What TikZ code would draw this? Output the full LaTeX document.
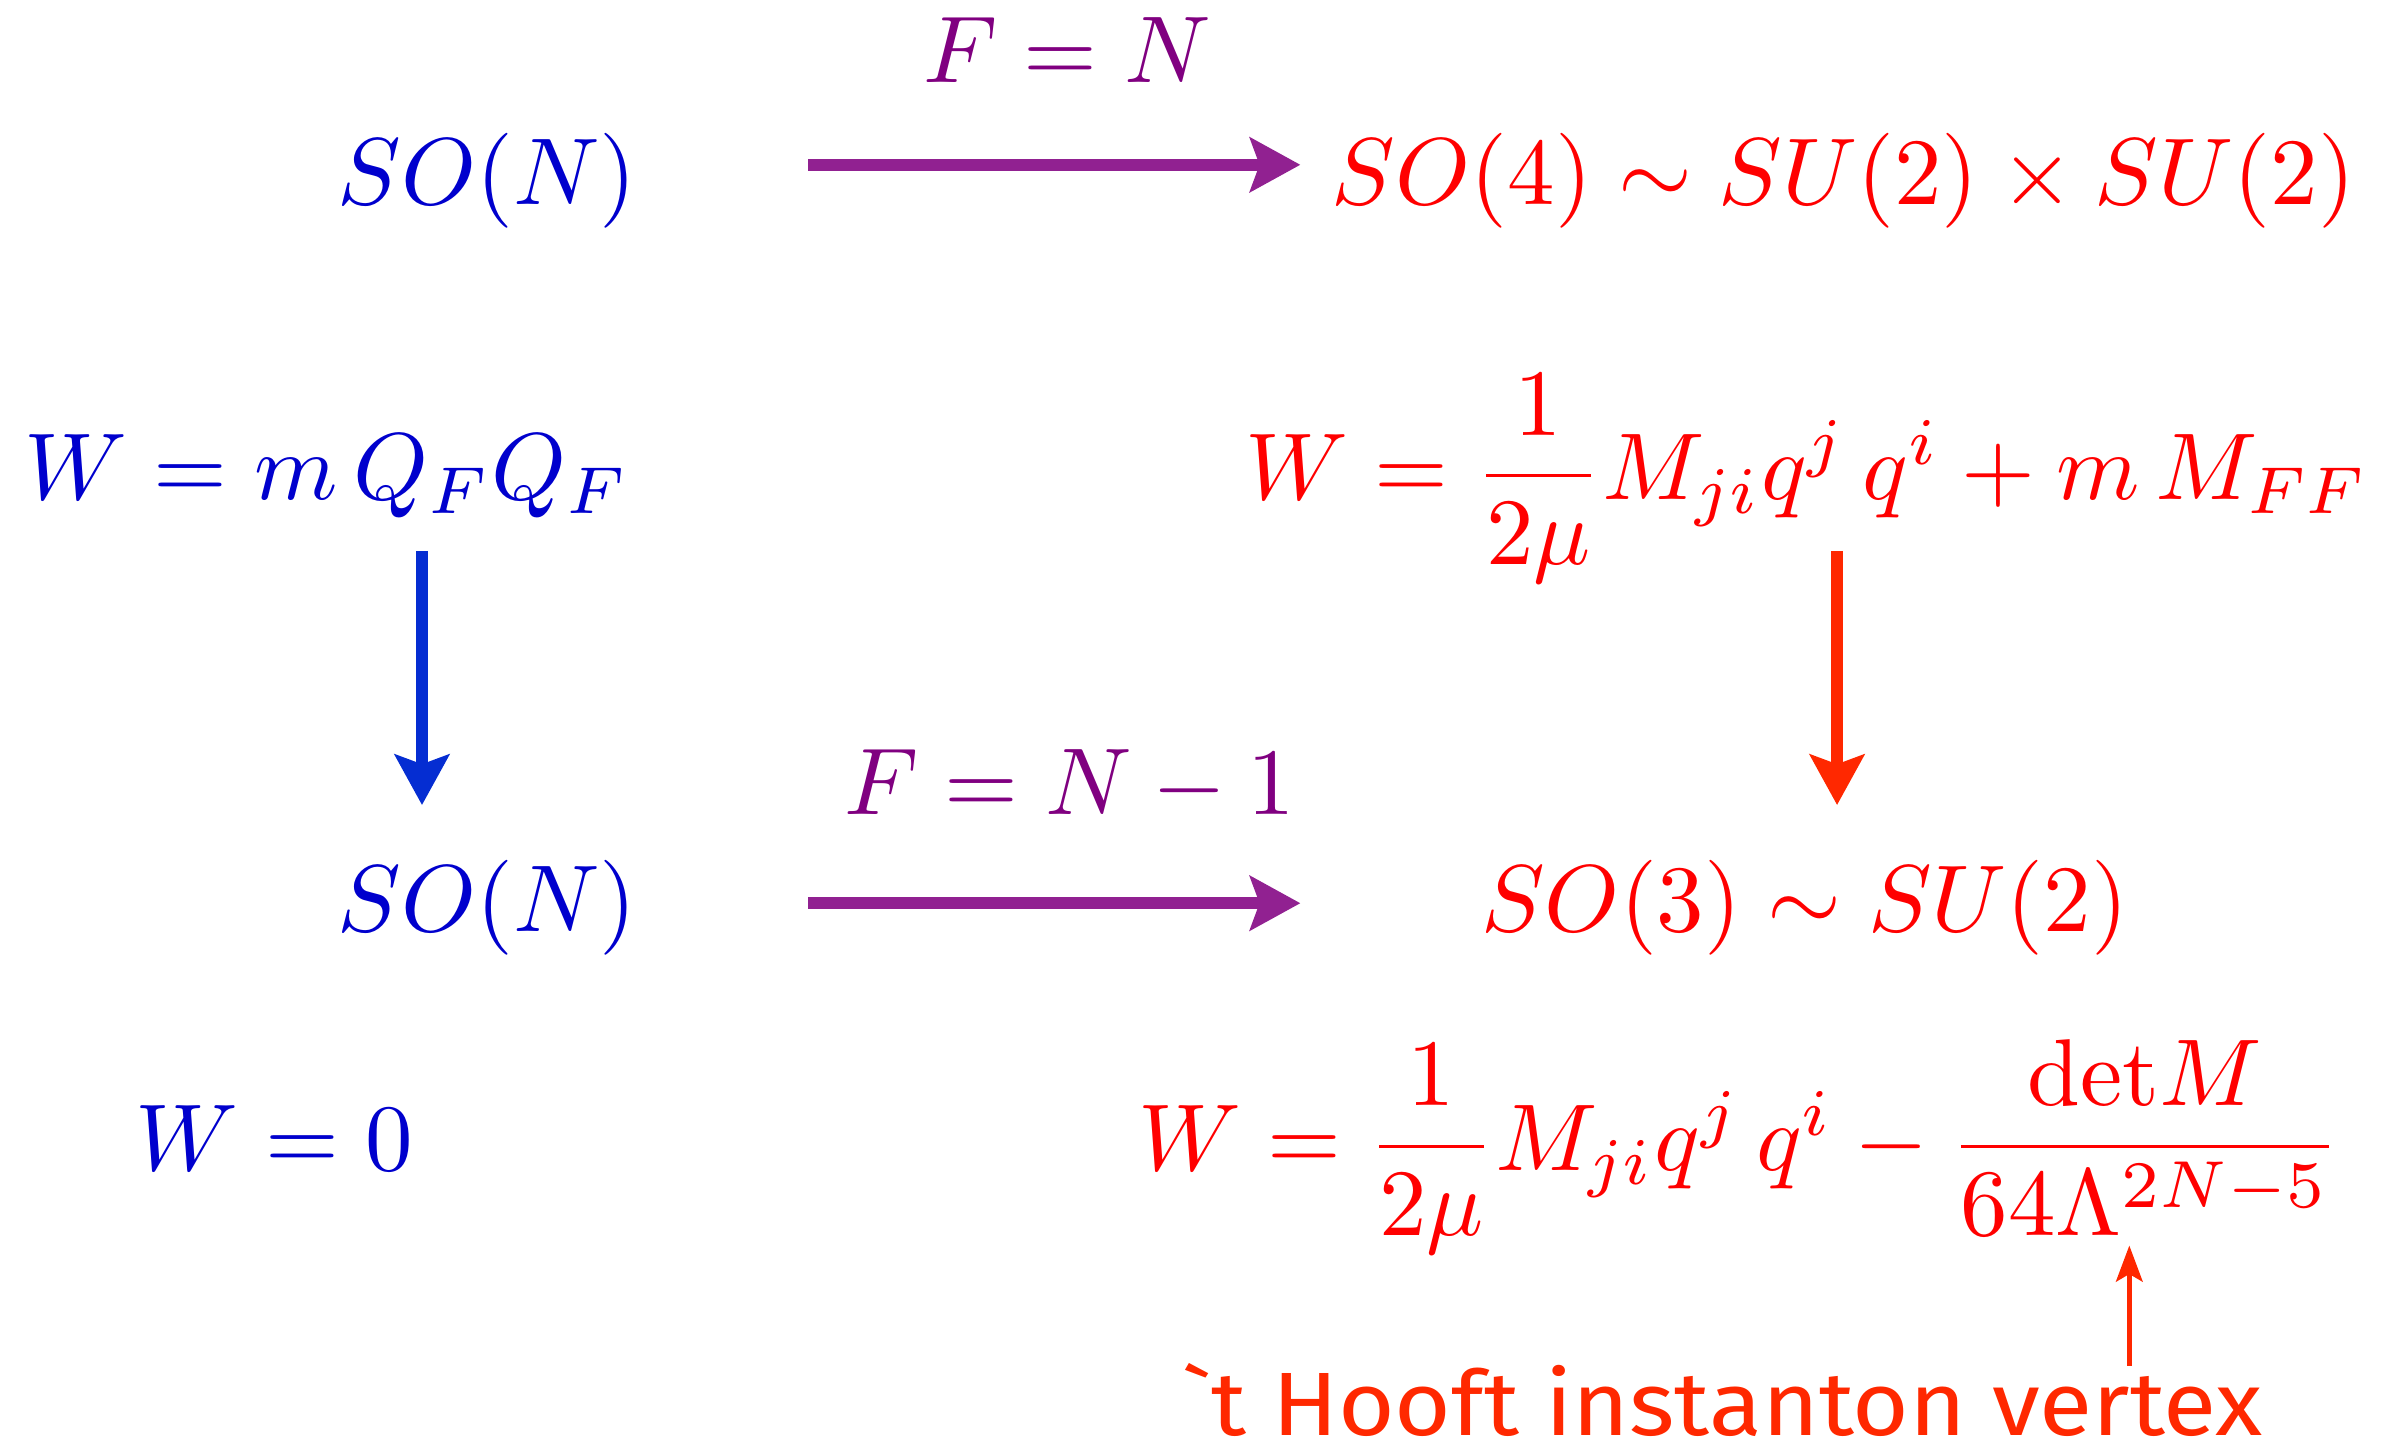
\documentclass[tikz,border=0pt]{standalone}
\usepackage{amsmath}
\usepackage{amssymb}
\usepackage{xcolor}
\usepackage{fontspec}
\usepackage{tikz}
\usetikzlibrary{arrows.meta, positioning, calc}
\newfontfamily\hooftfont{Fira Sans}

\definecolor{grpblue}{RGB}{0,0,205}
\definecolor{arrblue}{RGB}{5,45,210}
\definecolor{grppurple}{RGB}{128,0,128}
\definecolor{arrpurple}{RGB}{145,33,145}
\definecolor{grpred}{RGB}{255,0,0}
\definecolor{arrred}{RGB}{255,40,0}

\tikzset{
  grp/.style={inner sep=0pt, anchor=base west},
  flow/.style={line width=1.3pt, -{Stealth[length=5.3pt, width=5.7pt, inset=1pt]}},
  hint/.style={line width=0.5pt, -{Stealth[length=3.8pt, width=2.8pt, inset=0.8pt]}}
}

\begin{document}
\begin{tikzpicture}[scale=1.053]
  \useasboundingbox (0,0) rectangle (8.39,5.09);

  % Points for the arrows
  \coordinate (T1) at (2.84,4.51);
  \coordinate (T2) at (4.57,4.51);
  \coordinate (B1) at (2.84,1.915);
  \coordinate (B2) at (4.57,1.915);
  \coordinate (L1) at (1.483,3.153);
  \coordinate (L2) at (1.483,2.26);
  \coordinate (R1) at (6.456,3.153);
  \coordinate (R2) at (6.456,2.26);
  \coordinate (V1) at (7.483,0.29);
  \coordinate (V2) at (7.483,0.712);

  % Top row
  \node[grp, grpblue] (sotop) at (1.18,4.37) {$SO(N)$};
  \node[grp, grpred] (sofour) at (4.675,4.37) {$SO(4)\sim SU(2)\times SU(2)$};
  \node[inner sep=0pt, anchor=base, grppurple] (fn) at (3.75,4.80) {$F=N$};

  % Superpotentials with F = N
  \node[grp, grpblue] (wmass) at (0.08,3.335) {$W=m\,Q_FQ_F$};
  \node[grp, grpred] (wmeson) at (4.37,3.335)
    {$W=\dfrac{1}{2\mu}M_{ji}q^j\,q^i+m\,M_{FF}$};

  % Middle row
  \node[inner sep=0pt, anchor=base, grppurple] (fnone) at (3.76,2.228) {$F=N-1$};
  \node[grp, grpblue] (sobot) at (1.18,1.817) {$SO(N)$};
  \node[grp, grpred] (sothree) at (5.20,1.817) {$SO(3)\sim SU(2)$};

  % Superpotentials with F = N-1
  \node[grp, grpblue] (wzero) at (0.471,0.977) {$W=0$};
  \node[grp, grpred] (winst) at (3.995,0.977)
    {$W=\dfrac{1}{2\mu}M_{ji}q^j\,q^i-\dfrac{\mathrm{det}M}{64\Lambda^{2N-5}}$};

  % Label
  \node[grp, arrred, xscale=1.08, transform shape,
    font=\hooftfont\fontsize{9}{10}\selectfont] (hooft) at (4.147,0.045)
    {`t Hooft instanton vertex};

  % Arrows
  \draw[flow, arrpurple] (T1) -- (T2);
  \draw[flow, arrpurple] (B1) -- (B2);
  \draw[flow, arrblue] (L1) -- (L2);
  \draw[flow, arrred] (R1) -- (R2);
  \draw[hint, arrred] (V1) -- (V2);

\end{tikzpicture}
\end{document}
